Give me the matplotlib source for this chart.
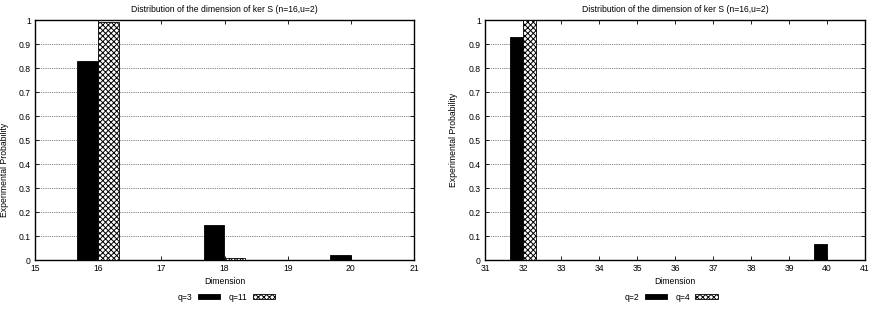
import matplotlib
matplotlib.use("Agg")
import matplotlib.pyplot as plt

plt.rcParams["font.family"] = ["Liberation Sans", "DejaVu Sans"]
plt.rcParams["hatch.linewidth"] = 0.7

# left panel data
left_dims = [16, 18, 20]
left_a = [0.83, 0.145, 0.02]     # q=3
left_b = [0.99, 0.01, 0.0]       # q=11
left_labels = ["q=3", "q=11"]

# right panel data
right_dims = [32, 40]
right_a = [0.93, 0.065]          # q=2
right_b = [0.999, 0.0]           # q=4
right_labels = ["q=2", "q=4"]

title = "Distribution of the dimension of ker S (n=16,u=2)"
W, H = 874, 310
FS = 6.2
BW = 0.33


def panel(ax_box, dims, a, b, labels, xlim, legend_x):
    ax = fig.add_axes(ax_box)
    xa = [d - BW / 2 for d in dims]
    xb = [d + BW / 2 for d in dims]
    ax.bar(xa, a, width=BW, color="black", edgecolor="black", linewidth=0.6,
           label=labels[0], zorder=3)
    ax.bar(xb, b, width=BW, color="white", edgecolor="black", linewidth=0.6,
           hatch="xxxxxx", label=labels[1], zorder=3)
    ax.set_xlim(*xlim)
    ax.set_ylim(0, 1)
    ax.set_xticks(range(xlim[0], xlim[1] + 1))
    ax.set_yticks([i / 10 for i in range(11)])
    ax.set_yticklabels(["0"] + [f"0.{i}" for i in range(1, 10)] + ["1"])
    ax.tick_params(direction="in", top=True, right=True, labelsize=FS,
                   length=3, width=0.6, pad=3)
    ax.grid(axis="y", linestyle=(0, (1, 1.2)), color="#555555", linewidth=0.6,
            zorder=0)
    for s in ax.spines.values():
        s.set_linewidth(1.0)
    ax.set_xlabel("Dimension", fontsize=FS, labelpad=3)
    ax.set_title(title, fontsize=FS, pad=6)
    ax.legend(loc="center", bbox_to_anchor=(legend_x, -0.155), ncol=2,
              fontsize=FS, frameon=False, markerfirst=False,
              handlelength=2.6, handleheight=0.5, columnspacing=1.0,
              handletextpad=0.6)
    return ax


fig = plt.figure(figsize=(W / 100, H / 100), dpi=100)

left = panel([35 / W, 50 / H, 379 / W, 240 / H], left_dims, left_a, left_b,
             left_labels, (15, 21), 0.505)
fig.text(5 / W, 140 / H, "Experimental Probability", rotation=90,
         fontsize=FS, ha="center", va="center")

right = panel([485 / W, 50 / H, 380 / W, 240 / H], right_dims, right_a, right_b,
              right_labels, (31, 41), 0.49)
right.set_ylabel("Experimental Probability", fontsize=FS, labelpad=8)

fig.savefig("out.png", dpi=100)
